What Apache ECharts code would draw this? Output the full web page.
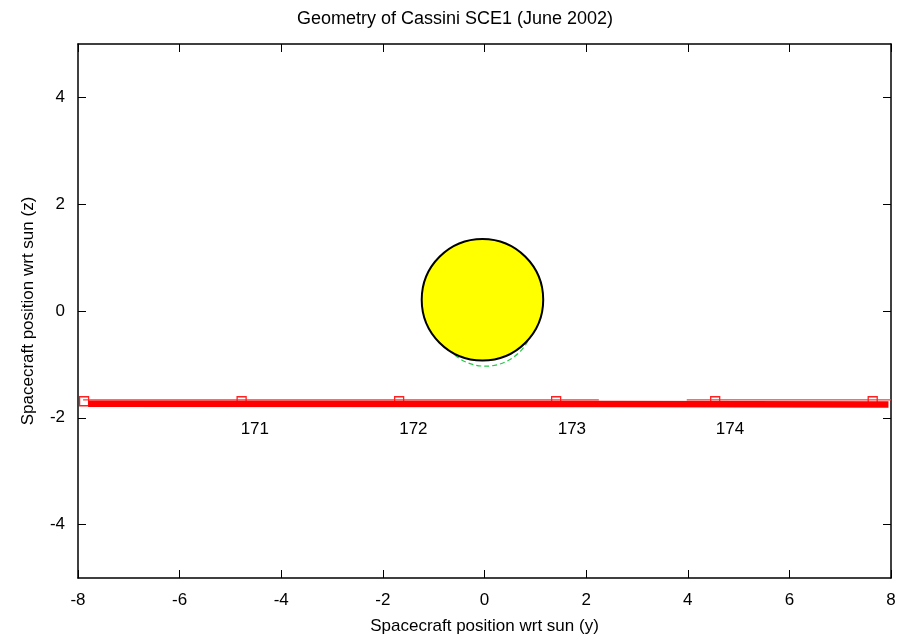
<!DOCTYPE html>
<html>
<head>
<meta charset="utf-8">
<script src="https://cdn.jsdelivr.net/npm/echarts@6/dist/echarts.min.js"></script>
<style>
  html, body { margin: 0; padding: 0; background: #fff; }
  #chart { width: 910px; height: 636px; }
</style>
</head>
<body>
<div id="chart"></div>
<script>
// Sun disc (yellow) and a smaller offset outline (green dashed), in y/z units
const sunCentre = [-0.04, 0.21];
const sunOutline = [0.02, -0.13];

// Spacecraft track: heavy trace
const trackThick = [[-7.80, -1.735], [2.27, -1.740], [2.27, -1.752], [7.95, -1.752]];
// Thin trace with daily markers, drawn as two runs
const trackThinA = [[-7.90, -1.665], [2.25, -1.665]];
const trackThinB = [[3.98, -1.665], [8.00, -1.665]];
const dayMarkersY = [-7.88, -4.78, -1.68, 1.41, 4.54, 7.64];
const dayMarkerZ = -1.69;

// Day-of-year labels
const dayNumbers = ['171', '172', '173', '174'];
const dayLabelY = [-4.52, -1.40, 1.72, 4.83];
const dayLabelZ = -2.22;

// Axis ticks
const xTicks = [-8, -6, -4, -2, 0, 2, 4, 6, 8];
const yTicks = [-4, -2, 0, 2, 4];

const FONT = 'Liberation Sans, Arial, Helvetica, sans-serif';
const black = '#000';
const thinRed = '#ff3a3a';

const chart = echarts.init(document.getElementById('chart'), null, { renderer: 'canvas' });

const xAxisBase = {
  type: 'value', min: -8, max: 8,
  axisLine: { show: true, onZero: false, lineStyle: { color: black, width: 1.5 } },
  axisTick: { show: true, inside: true, length: 8, customValues: xTicks, lineStyle: { color: black, width: 1 } },
  splitLine: { show: false }
};
const yAxisBase = {
  type: 'value', min: -5, max: 5,
  axisLine: { show: true, onZero: false, lineStyle: { color: black, width: 1.5 } },
  axisTick: { show: true, inside: true, length: 8, customValues: yTicks, lineStyle: { color: black, width: 1 } },
  splitLine: { show: false }
};

function thinRun(data) {
  return {
    type: 'line', z: 4, data: data, symbol: 'none', silent: true,
    color: thinRed,
    itemStyle: { color: thinRed },
    lineStyle: { color: thinRed, width: 1.2, opacity: 1 }
  };
}

chart.setOption({
  animation: false,
  backgroundColor: '#fff',
  textStyle: { fontFamily: FONT },
  title: {
    text: 'Geometry of Cassini SCE1 (June 2002)',
    left: 'center', top: 5,
    textStyle: { fontFamily: FONT, fontSize: 18, fontWeight: 'normal', color: black }
  },
  grid: { left: 78, right: 19, top: 44, bottom: 58, containLabel: false, outerBoundsMode: 'none' },
  xAxis: [
    Object.assign({}, xAxisBase, {
      position: 'bottom',
      name: 'Spacecraft position wrt sun (y)',
      nameLocation: 'middle', nameGap: 40,
      nameTextStyle: { fontFamily: FONT, fontSize: 17, color: black },
      axisLabel: { show: true, customValues: xTicks, margin: 14, fontFamily: FONT, fontSize: 17, color: black }
    }),
    Object.assign({}, xAxisBase, { position: 'top', axisLabel: { show: false } })
  ],
  yAxis: [
    Object.assign({}, yAxisBase, {
      position: 'left',
      name: 'Spacecraft position wrt sun (z)',
      nameLocation: 'middle', nameGap: 41,
      nameTextStyle: { fontFamily: FONT, fontSize: 17, color: black },
      axisLabel: { show: true, customValues: yTicks, margin: 13, fontFamily: FONT, fontSize: 17, color: black }
    }),
    Object.assign({}, yAxisBase, { position: 'right', axisLabel: { show: false } })
  ],
  series: [
    {
      name: 'sun outline', type: 'scatter', z: 2,
      data: [sunOutline], symbol: 'circle', symbolSize: 96.5,
      itemStyle: { color: 'rgba(0,0,0,0)', opacity: 1, borderColor: '#22cc44', borderWidth: 1.2, borderType: [5, 3] },
      silent: true
    },
    {
      name: 'sun', type: 'scatter', z: 3,
      data: [sunCentre], symbol: 'circle', symbolSize: 121.5,
      itemStyle: { color: '#ffff00', opacity: 1, borderColor: black, borderWidth: 2 },
      silent: true
    },
    thinRun(trackThinA),
    thinRun(trackThinB),
    {
      name: 'day markers', type: 'scatter', z: 4,
      data: dayMarkersY.map(v => [v, dayMarkerZ]),
      symbol: 'rect', symbolSize: 9,
      itemStyle: { color: 'rgba(0,0,0,0)', opacity: 1, borderColor: '#ff2020', borderWidth: 1.3 }
    },
    {
      name: 'track', type: 'line', z: 5,
      data: trackThick, symbol: 'none',
      color: '#ff0000',
      lineStyle: { color: '#ff0000', width: 6.5, cap: 'butt' }
    },
    {
      name: 'day labels', type: 'scatter', z: 6,
      data: dayLabelY.map((v, i) => ({ value: [v, dayLabelZ], name: dayNumbers[i] })),
      symbolSize: 0,
      itemStyle: { opacity: 1 },
      label: {
        show: true, position: 'inside', formatter: p => p.name,
        fontFamily: FONT, fontSize: 17, color: black
      }
    }
  ]
});
</script>
</body>
</html>
